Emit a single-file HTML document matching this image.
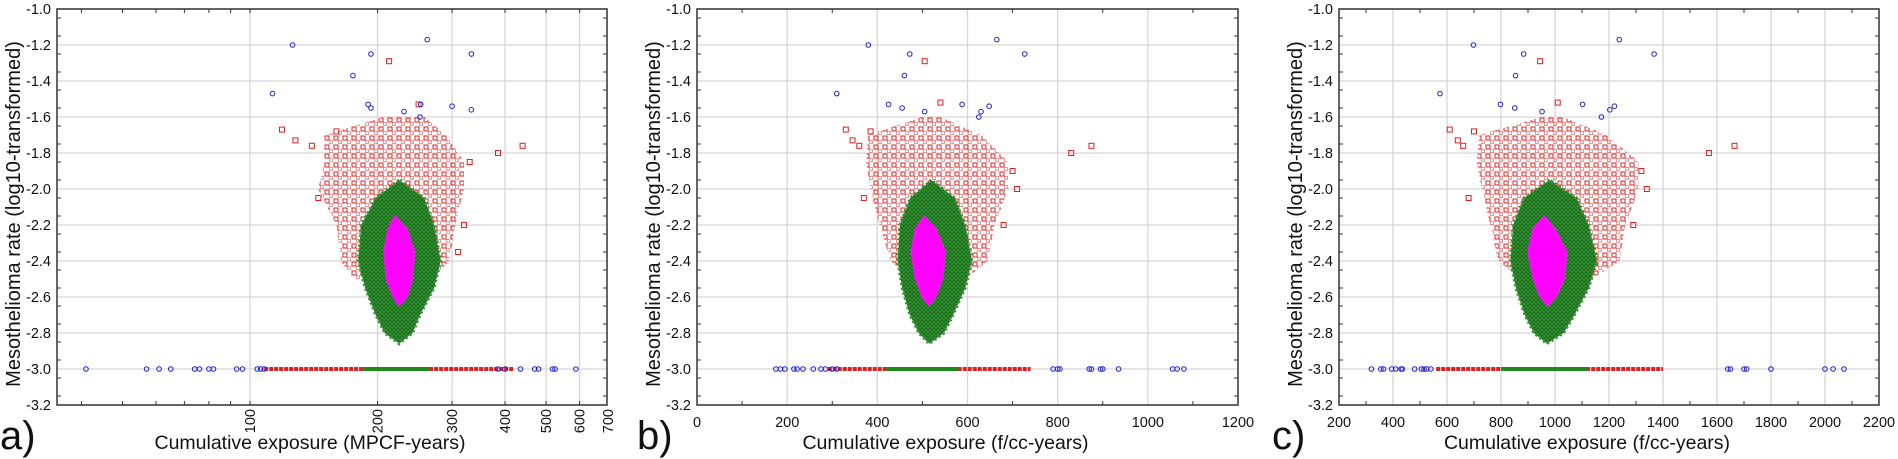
<!DOCTYPE html>
<html><head><meta charset="utf-8"><style>
html,body{margin:0;padding:0;background:#fff;}
svg{display:block;font-family:"Liberation Sans",Arial,sans-serif;}
</style></head><body>
<svg id="chart" width="1898" height="459" viewBox="0 0 1898 459" xmlns="http://www.w3.org/2000/svg">
<defs>
<pattern id="redPat" width="9" height="9" patternUnits="userSpaceOnUse"><rect x="1" y="1" width="4" height="4" fill="none" stroke="#e02020" stroke-width="1"/><rect x="5.5" y="5.5" width="3" height="3" fill="none" stroke="#e85050" stroke-width="0.6"/></pattern>
<pattern id="greenPat" width="4" height="4" patternUnits="userSpaceOnUse"><rect width="4" height="4" fill="#3d963d"/><path d="M2 0 L4 2 L2 4 L0 2Z" fill="none" stroke="#0f660f" stroke-width="0.8"/></pattern>
</defs>
</svg>
<script>
// ---------- shared data ----------
const yTicks = [-1.0,-1.2,-1.4,-1.6,-1.8,-2.0,-2.2,-2.4,-2.6,-2.8,-3.0,-3.2];
// Panel a (MPCF-years, log axis)
const aXTicks = [100,200,300,400,500,600,700];
const aBlueX = [126,193,175,262,333,113,190,193,231,253,300,333,252];
const aBlueY = [-1.2,-1.25,-1.37,-1.17,-1.25,-1.47,-1.53,-1.55,-1.57,-1.53,-1.54,-1.56,-1.6];
const aZeroBlueX = [41,57,61,65,74,76,80,82,93,96,104,106,108,385,400,435,470,480,518,525,588];
const aRedOutX = [385,440,213,119,128,140,250,160,145,330,320,310];
const aRedOutY = [-1.8,-1.76,-1.29,-1.67,-1.73,-1.76,-1.53,-1.68,-2.05,-1.85,-2.2,-2.35];
const aRedY = [-1.6,-1.7,-1.85,-2.0,-2.2,-2.4,-2.5];
const aRedL = [207,150,150,145,160,164,175];
const aRedR = [258,290,320,320,305,295,270];
const aGreenY = [-1.95,-2.05,-2.2,-2.4,-2.55,-2.7,-2.8,-2.86];
const aGreenL = [225,198,183,180,187,198,208,225];
const aGreenR = [225,258,272,282,272,252,242,225];
const aMagY = [-2.15,-2.22,-2.35,-2.5,-2.6,-2.65];
const aMagL = [220,212,207,210,218,225];
const aMagR = [220,235,245,242,235,225];
const aZeroRed = [108,420]; const aZeroGreen = [185,265];
// Panel b (f/cc-years)
const bXTicks = [0,200,400,600,800,1000,1200];
const bBlueX = [380,472,460,665,727,310,425,455,505,588,630,648,625];
const bBlueY = [-1.2,-1.25,-1.37,-1.17,-1.25,-1.47,-1.53,-1.55,-1.57,-1.53,-1.57,-1.54,-1.6];
const bZeroBlueX = [175,185,195,215,222,235,258,275,285,300,310,790,800,805,870,875,895,900,935,1055,1065,1080];
const bRedOutX = [830,875,505,330,345,360,540,385,370,700,710,680];
const bRedOutY = [-1.8,-1.76,-1.29,-1.67,-1.73,-1.76,-1.52,-1.68,-2.05,-1.9,-2.0,-2.2];
const bRedY = [-1.6,-1.7,-1.85,-2.0,-2.2,-2.4,-2.5];
const bRedL = [500,380,375,385,405,430,475];
const bRedR = [540,630,690,690,660,645,595];
const bGreenY = [-1.95,-2.05,-2.2,-2.4,-2.55,-2.7,-2.8,-2.86];
const bGreenL = [520,473,450,445,455,472,492,515];
const bGreenR = [520,572,595,610,595,568,548,515];
const bMagY = [-2.15,-2.22,-2.35,-2.5,-2.6,-2.65];
const bMagL = [505,485,475,485,500,515];
const bMagR = [505,530,552,545,530,515];
const bZeroRed = [290,740]; const bZeroGreen = [420,580];
// Panel c (f/cc-years)
const cXTicks = [200,400,600,800,1000,1200,1400,1600,1800,2000,2200];
const cBlueX = [698,884,854,1238,1367,574,798,851,952,1102,1172,1203,1220];
const cBlueY = [-1.2,-1.25,-1.37,-1.17,-1.25,-1.47,-1.53,-1.55,-1.57,-1.53,-1.6,-1.56,-1.54];
const cZeroBlueX = [320,355,365,395,410,430,435,480,505,515,525,540,1640,1650,1700,1710,1800,2000,2030,2070];
const cRedOutX = [1570,1665,945,610,640,660,1010,700,680,1320,1340,1290];
const cRedOutY = [-1.8,-1.76,-1.29,-1.67,-1.73,-1.76,-1.52,-1.68,-2.05,-1.9,-2.0,-2.2];
const cRedY = [-1.6,-1.7,-1.85,-2.0,-2.2,-2.4,-2.5];
const cRedL = [950,720,710,730,760,790,875];
const cRedR = [1030,1190,1310,1310,1260,1240,1135];
const cGreenY = [-1.95,-2.05,-2.2,-2.4,-2.55,-2.7,-2.8,-2.86];
const cGreenL = [980,885,845,835,855,888,922,970];
const cGreenR = [980,1080,1125,1155,1125,1072,1032,970];
const cMagY = [-2.15,-2.22,-2.35,-2.5,-2.6,-2.65];
const cMagL = [960,920,900,920,945,975];
const cMagR = [960,1000,1045,1035,1005,975];
const cZeroRed = [560,1400]; const cZeroGreen = [800,1120];

const NS = "http://www.w3.org/2000/svg";
const svg = document.getElementById('chart');
const TOP = 9, BOT = 405;
function yS(v){ return TOP + (-1.0 - v) / 2.2 * (BOT - TOP); }
function mk(tag, attrs, parent){ const e = document.createElementNS(NS, tag); for (const k in attrs) e.setAttribute(k, attrs[k]); (parent||svg).appendChild(e); return e; }

function panel(p){
  const g = mk('g', {});
  
  
  const xS = p.xS, L = p.L, R = p.R;
  yTicks.forEach(v => { const l = mk('line', {x1:L, x2:R, y1:yS(v), y2:yS(v), stroke:'#d6d6d6', 'stroke-width':1.3}, g);
      });
  p.xTicks.forEach(v => { const x = xS(v); if (x > L+1 && x < R-1) { const l = mk('line', {x1:x, x2:x, y1:TOP, y2:BOT, stroke:'#d6d6d6', 'stroke-width':1.3}, g);
      } });
  for (let i = 0; i < 22; i++){ const y = TOP + i*(BOT-TOP)/22 + (BOT-TOP)/44;
    mk('line', {x1:L, x2:L+4, y1:y, y2:y, stroke:'#333', 'stroke-width':1}, g);
    mk('line', {x1:R, x2:R-4, y1:y, y2:y, stroke:'#333', 'stroke-width':1}, g); }
  p.minorX.forEach(v => { const x = xS(v); if (x > L && x < R){
    mk('line', {x1:x, x2:x, y1:BOT, y2:BOT-4, stroke:'#333', 'stroke-width':1}, g);
    mk('line', {x1:x, x2:x, y1:TOP, y2:TOP+4, stroke:'#333', 'stroke-width':1}, g); } });
  function poly(Y, Lx, Rx, fill, name, extra){
    const pts = [];
    for (let i = 0; i < Y.length; i++) pts.push(xS(Lx[i]) + ',' + yS(Y[i]));
    for (let i = Y.length-1; i >= 0; i--) pts.push(xS(Rx[i]) + ',' + yS(Y[i]));
    const e = mk('polygon', Object.assign({points: pts.join(' '), fill: fill}, extra||{}), g);
    
    
  }
  poly(p.redY, p.redL, p.redR, 'url(#redPat)', 'red-square-cloud', {});
  poly(p.greenY, p.greenL, p.greenR, 'url(#greenPat)', 'green-diamond-cloud', {stroke:'#3a8f3a','stroke-width':3,'stroke-dasharray':'2 3'});
  poly(p.magY, p.magL, p.magR, '#ff00ff', 'magenta-triangle-cloud', {stroke:'#e020e0','stroke-width':1.5});
  p.redOutX.forEach((v,i) => { const s = mk('rect', {x:xS(v)-2.5, y:yS(p.redOutY[i])-2.5, width:5, height:5, fill:'none', stroke:'#e02020', 'stroke-width':1}, g);
      });
  const y0 = yS(-3.0);
  const zr = mk('line', {x1:xS(p.zeroRed[0]), x2:xS(p.zeroRed[1]), y1:y0, y2:y0, stroke:'#e02020', 'stroke-width':4, 'stroke-dasharray':'4 1'}, g);
   
  const zg = mk('line', {x1:xS(p.zeroGreen[0]), x2:xS(p.zeroGreen[1]), y1:y0, y2:y0, stroke:'#1e8a1e', 'stroke-width':4}, g);
   
  p.blueX.forEach((v,i) => { const c = mk('circle', {cx:xS(v), cy:yS(p.blueY[i]), r:2.3, fill:'none', stroke:'#2020d0', 'stroke-width':1}, g);
      });
  p.zeroBlueX.forEach(v => { const c = mk('circle', {cx:xS(v), cy:y0, r:2.3, fill:'none', stroke:'#2020d0', 'stroke-width':1}, g);
      });
  const fr = mk('rect', {x:L, y:TOP, width:R-L, height:BOT-TOP, fill:'none', stroke:'#333', 'stroke-width':1.5}, g);
   
  yTicks.forEach(v => { const t = mk('text', {x:L-6, y:yS(v)+5, 'font-size':14.5, 'text-anchor':'end', fill:'#111'}, g);
    t.textContent = v.toFixed(1);
      });
  p.xTicks.forEach(v => { const x = xS(v); let t;
    if (p.rotate) t = mk('text', {x:x+5, y:409, 'font-size':14.5, 'text-anchor':'end', transform:'rotate(-90 '+(x+5)+' 409)', fill:'#111'}, g);
    else t = mk('text', {x:x, y:427, 'font-size':14.5, 'text-anchor':'middle', fill:'#111'}, g);
    t.textContent = v;
      });
  const xt = mk('text', {x:(L+R)/2 - 22, y:449, 'font-size':19.5, 'text-anchor':'middle', fill:'#111'}, g);
  xt.textContent = p.xTitle;
   
  const yx = L - 37, yy = 214;
  const yt = mk('text', {x:yx, y:yy, 'font-size':20, 'text-anchor':'middle', transform:'rotate(-90 '+yx+' '+yy+')', fill:'#111'}, g);
  yt.textContent = 'Mesothelioma rate (log10-transformed)';
   
  const pl = mk('text', {x:p.labX, y:449, 'font-size':40, fill:'#111'}, g);
  pl.textContent = p.label;
   
}

const aMin = [40,50,60,70,80,90,100,200,300,400,500,600,700];
panel({name:'panel-a', L:57, R:607, xS: v => 250 + Math.log10(v/100)*423.6, xTicks:aXTicks, minorX:aMin, rotate:true,
  blueX:aBlueX, blueY:aBlueY, zeroBlueX:aZeroBlueX, redOutX:aRedOutX, redOutY:aRedOutY,
  redY:aRedY, redL:aRedL, redR:aRedR, greenY:aGreenY, greenL:aGreenL, greenR:aGreenR,
  magY:aMagY, magL:aMagL, magR:aMagR, zeroRed:aZeroRed, zeroGreen:aZeroGreen,
  xTitle:'Cumulative exposure (MPCF-years)', label:'a)', labX:0});
const bMin = [100,300,500,700,900,1100];
panel({name:'panel-b', L:697, R:1238, xS: v => 697 + v*(1238-697)/1200, xTicks:bXTicks, minorX:bMin, rotate:false,
  blueX:bBlueX, blueY:bBlueY, zeroBlueX:bZeroBlueX, redOutX:bRedOutX, redOutY:bRedOutY,
  redY:bRedY, redL:bRedL, redR:bRedR, greenY:bGreenY, greenL:bGreenL, greenR:bGreenR,
  magY:bMagY, magL:bMagL, magR:bMagR, zeroRed:bZeroRed, zeroGreen:bZeroGreen,
  xTitle:'Cumulative exposure (f/cc-years)', label:'b)', labX:637});
const cMin = [300,500,700,900,1100,1300,1500,1700,1900,2100];
panel({name:'panel-c', L:1339, R:1879, xS: v => 1339 + (v-200)*(1879-1339)/2000, xTicks:cXTicks, minorX:cMin, rotate:false,
  blueX:cBlueX, blueY:cBlueY, zeroBlueX:cZeroBlueX, redOutX:cRedOutX, redOutY:cRedOutY,
  redY:cRedY, redL:cRedL, redR:cRedR, greenY:cGreenY, greenL:cGreenL, greenR:cGreenR,
  magY:cMagY, magL:cMagL, magR:cMagR, zeroRed:cZeroRed, zeroGreen:cZeroGreen,
  xTitle:'Cumulative exposure (f/cc-years)', label:'c)', labX:1272});
</script>
</body></html>
